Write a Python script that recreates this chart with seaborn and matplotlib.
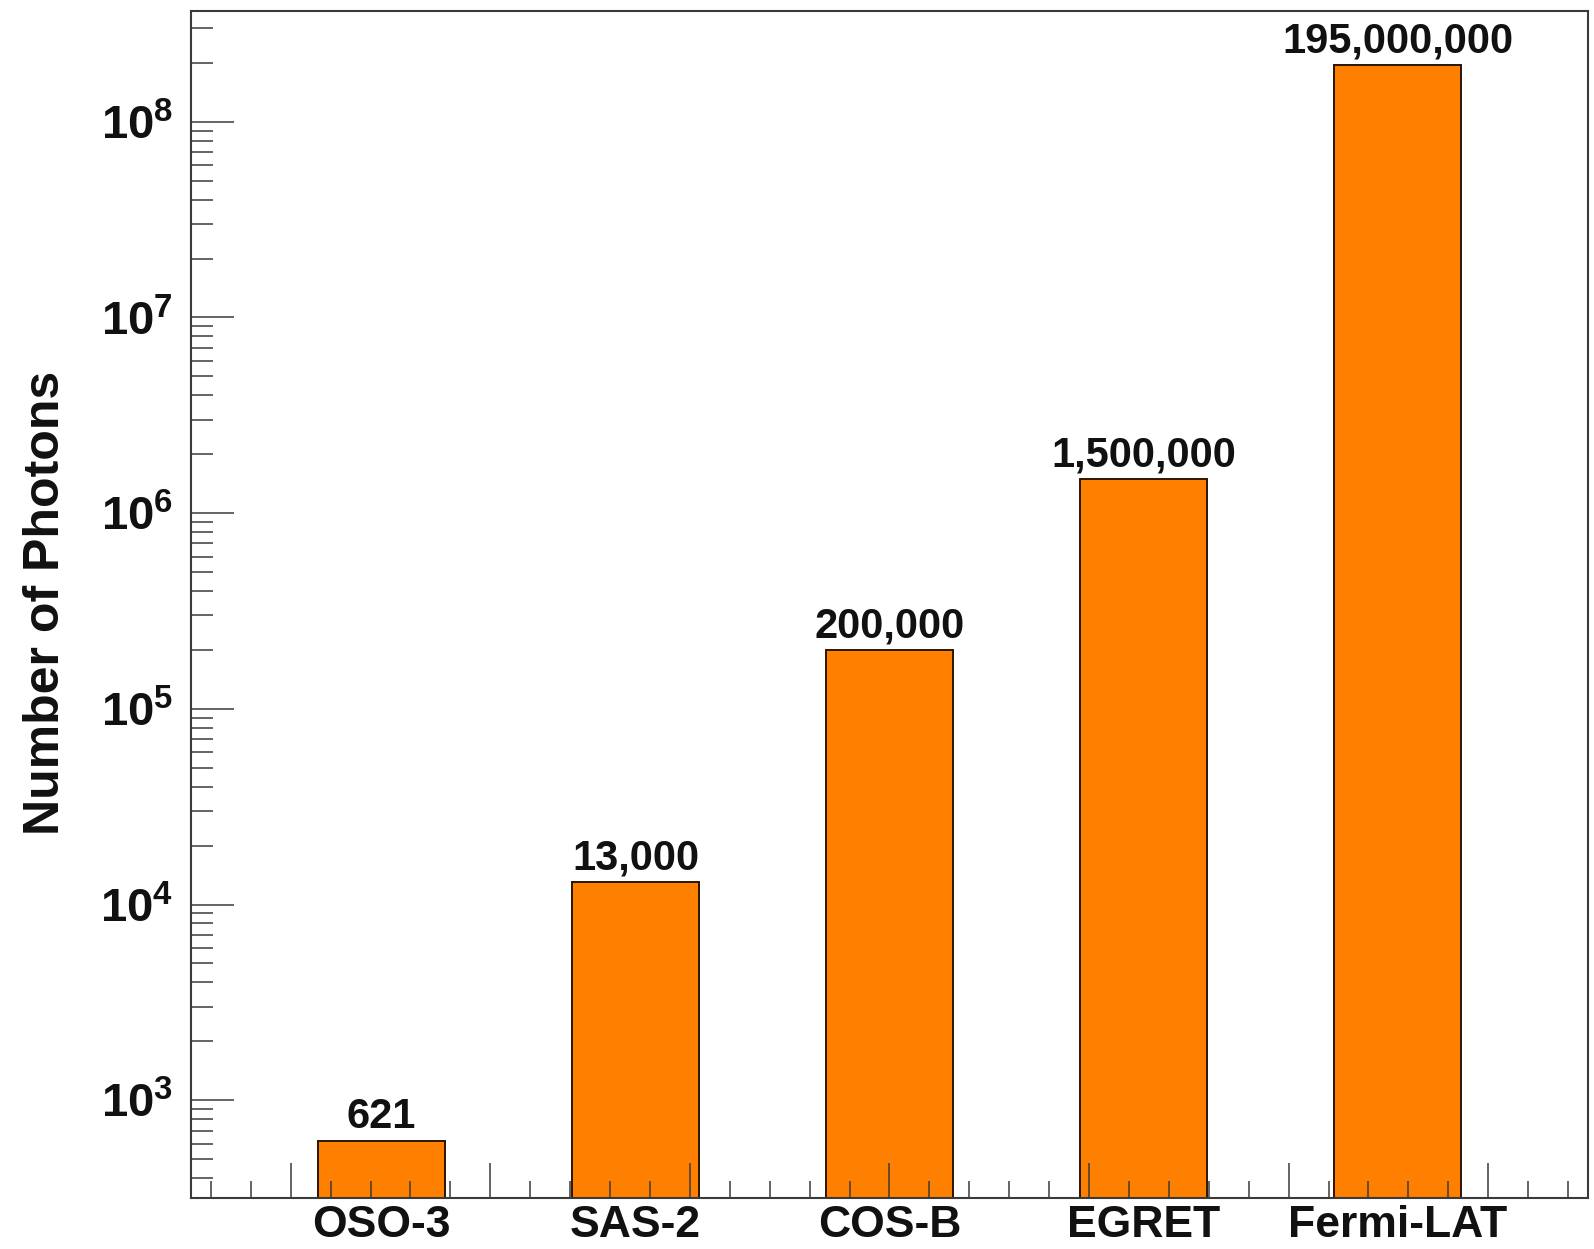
import numpy as np
import matplotlib
matplotlib.use("Agg")
import matplotlib.pyplot as plt
from matplotlib.ticker import (LogLocator, FuncFormatter, FixedLocator,
                               NullFormatter, NullLocator)
import seaborn as sns

# Photon counts collected by each gamma-ray mission
categories = ["OSO-3", "SAS-2", "COS-B", "EGRET", "Fermi-LAT"]
photons = [621, 13000, 200000, 1500000, 195000000]
value_labels = ["621", "13,000", "200,000", "1,500,000", "195,000,000"]
y_label = "Number of Photons"

sns.set_style("ticks")
plt.rcParams["font.family"] = ["Liberation Sans", "DejaVu Sans"]
plt.rcParams["font.weight"] = "bold"
plt.rcParams["mathtext.fontset"] = "custom"
plt.rcParams["mathtext.rm"] = "Liberation Sans:bold"
plt.rcParams["mathtext.bf"] = "Liberation Sans:bold"
plt.rcParams["mathtext.it"] = "Liberation Sans:bold"

text_color = "#111111"
frame_color = "#3a3a3a"

fig = plt.figure(figsize=(15.94, 12.49), dpi=100)
ax = fig.add_axes([0.1198, 0.0408, 0.8764, 0.9504])
ax.set_yscale("log")

sns.barplot(x=categories, y=photons, color="#ff7f00", saturation=1,
            width=0.5, edgecolor="#2a1500", linewidth=1.4, ax=ax)

ax.set_xlim(-0.75, 4.75)
ax.set_ylim(10 ** 2.5, 10 ** 8.566)
ax.set_axisbelow(False)

# frame
for sp in ax.spines.values():
    sp.set_visible(True)
    sp.set_color(frame_color)
    sp.set_linewidth(1.5)

# y axis: decades with inner ticks
ax.yaxis.set_major_locator(LogLocator(base=10))
ax.yaxis.set_minor_locator(LogLocator(base=10, subs=np.arange(2, 10)))
ax.yaxis.set_major_formatter(FuncFormatter(
    lambda v, p: r"$\mathbf{10^{%d}}$" % round(np.log10(v))))
ax.yaxis.set_minor_formatter(NullFormatter())
ax.tick_params(axis="y", which="major", direction="in", length=31, width=1.1,
               color=frame_color, labelcolor=text_color, labelsize=34, pad=13)
ax.tick_params(axis="y", which="minor", direction="in", length=15.5, width=1.1,
               color=frame_color)
ax.tick_params(axis="y", which="both", right=False)

# x axis: evenly divided frame ticks, category names on a separate axis
xmin, xmax = ax.get_xlim()
step = (xmax - xmin) / 7
major_x = xmin + (np.arange(7) + 0.5) * step
minor_x = xmin + step / 10 + np.arange(35) * step / 5
ax.xaxis.set_major_locator(FixedLocator(major_x))
ax.xaxis.set_minor_locator(FixedLocator(minor_x[minor_x < xmax]))
ax.xaxis.set_major_formatter(NullFormatter())
ax.xaxis.set_minor_formatter(NullFormatter())
ax.tick_params(axis="x", which="major", direction="in", length=25, width=1.1,
               color=frame_color, top=False, labelbottom=False)
ax.tick_params(axis="x", which="minor", direction="in", length=12.5, width=1.1,
               color=frame_color, top=False, labelbottom=False)
ax.set_xlabel("")
ax.set_ylabel("")

sec = ax.secondary_xaxis("bottom")
sec.set_xticks(range(len(categories)), labels=categories)
sec.xaxis.set_minor_locator(NullLocator())
sec.tick_params(length=0, pad=5, labelsize=32, labelcolor=text_color)
sec.spines["bottom"].set_visible(False)
for t in sec.get_xticklabels():
    t.set_fontweight("bold")

# value labels above bars
for i, (v, lab) in enumerate(zip(photons, value_labels)):
    ax.annotate(lab, (i, v), xytext=(0, 9), textcoords="offset points",
                ha="center", va="baseline", fontsize=30, fontweight="bold",
                color=text_color, annotation_clip=False)

fig.text(46 / 1594, 1 - 603 / 1249, y_label, rotation=90, ha="center",
         va="center", fontsize=36, fontweight="bold", color=text_color)

fig.savefig("out.png", dpi=100, facecolor="white")
